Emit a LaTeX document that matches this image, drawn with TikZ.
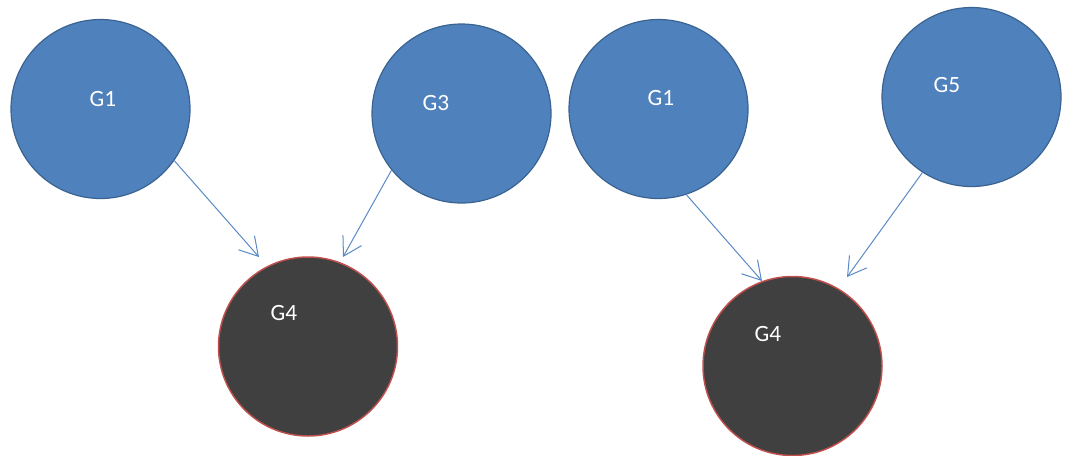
\documentclass[tikz,border=0pt]{standalone}
\usepackage{fontspec}
\setmainfont{Carlito}
\usetikzlibrary{arrows.meta}
\definecolor{bluefill}{HTML}{4F81BD}
\definecolor{blueedge}{HTML}{3A6391}
\definecolor{arrowblue}{HTML}{5A8AC6}
\definecolor{darkfill}{HTML}{404040}
\definecolor{rededge}{HTML}{C0504D}
\tikzset{
  bluecirc/.style={circle, minimum size=134.25pt, inner sep=0pt, fill=bluefill, draw=blueedge, line width=0.9pt},
  darkcirc/.style={circle, minimum size=134.25pt, inner sep=0pt, fill=darkfill, draw=rededge, line width=1.1pt},
  lbl/.style={text=white, font=\fontsize{17.5pt}{20pt}\selectfont, inner sep=0pt},
  conn/.style={draw=arrowblue, line width=0.75pt, -{Straight Barb[length=13.5pt, width=16pt, line width=0.75pt]}}
}
\begin{document}
\begin{tikzpicture}[x=0.75pt, y=-0.75pt]
\useasboundingbox (0,0) rectangle (1069,455);
% left group
\node[bluecirc] (lg1) at (100.5,109) {};
\node[bluecirc] (lg3) at (461.5,113.5) {};
\node[darkcirc] (lg4) at (308,346.5) {};
\node[lbl] (lg1t) at (103,99) {G1};
\node[lbl] (lg3t) at (436,103) {G3};
\node[lbl] (lg4t) at (284,313) {G4};
\coordinate (lt1) at (259,257);
\coordinate (lt2) at (343,257);
\draw[conn] (lg1.-35) -- (lt1);
\draw[conn] (lg3.-141) -- (lt2);
% right group
\node[bluecirc] (rg1) at (658.5,109) {};
\node[bluecirc] (rg5) at (971.5,97) {};
\node[darkcirc] (rg4) at (792.5,366) {};
\node[lbl] (rg1t) at (661,98) {G1};
\node[lbl] (rg5t) at (947,85) {G5};
\node[lbl] (rg4t) at (768,334) {G4};
\coordinate (rt1) at (762,281);
\coordinate (rt2) at (847,277);
\draw[conn] (rg1.-72) -- (rt1);
\draw[conn] (rg5.-123) -- (rt2);
\end{tikzpicture}
\end{document}
